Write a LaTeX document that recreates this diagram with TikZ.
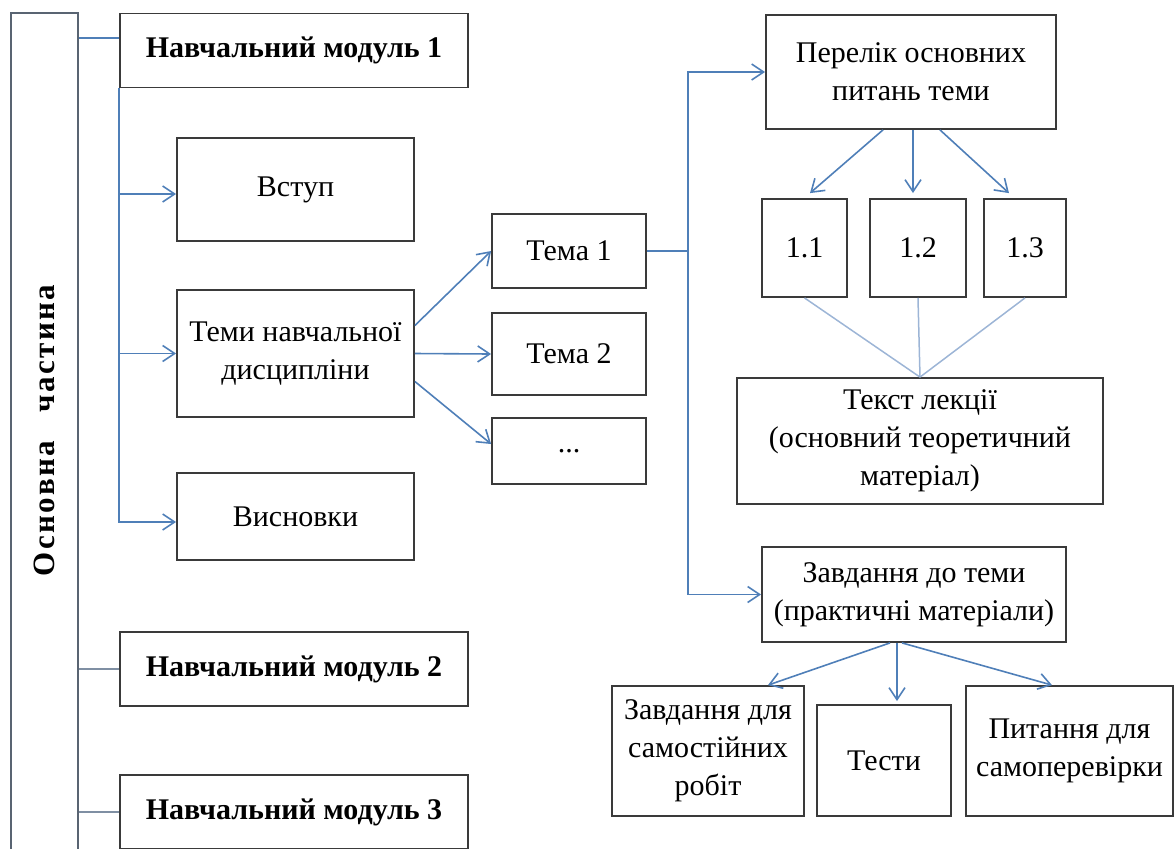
\documentclass[tikz,border=0pt]{standalone}
\usepackage{fontspec}
\setmainfont{Liberation Serif}
\usepackage{tikz}
\usetikzlibrary{arrows.meta}

\definecolor{linkblue}{HTML}{4F7FB8}
\definecolor{paleblue}{HTML}{9DB5D6}
\definecolor{sidegray}{HTML}{7F8FA3}
\definecolor{boxgray}{HTML}{3A3A3A}

\begin{document}
\begin{tikzpicture}[x=0.5pt, y=-0.5pt,
    every node/.style={draw=boxgray, line width=0.9pt, align=center, inner sep=2pt,
      font=\fontsize{15}{19}\selectfont},
    link/.style={draw=linkblue, line width=0.8pt},
    arr/.style={link, -{Straight Barb[length=6pt, width=8pt, line width=0.8pt]}},
    faint/.style={draw=paleblue, line width=0.75pt},
    side/.style={draw=sidegray, line width=0.6pt}]

        \useasboundingbox (0,0) rectangle (1174,848);

        % Side bar
        \node[rotate=90, minimum width=428.5pt, minimum height=33.5pt, draw=sidegray!70!black,
          font=\fontsize{15.5}{19}\selectfont\bfseries\addfontfeature{LetterSpace=8}]
          (main) at (44.5,441.5) {\hspace*{11pt}Основна\hspace{14pt}частина};

        % Modules
        \foreach \i/\y in {1/50.5, 2/669, 3/812} {
          \node[minimum width=174pt, minimum height=37pt, font=\fontsize{15}{19}\selectfont\bfseries]
            (mod\i) at (294,\y) {Навчальний модуль \i};
        }

        % Parts of module 1
        \node[minimum width=118.5pt, minimum height=51.5pt] (intro) at (295.5,189.5) {Вступ};
        \node[minimum width=118.5pt, minimum height=63.5pt] (topics) at (295.5,353.5) {Теми навчальної\\дисципліни};
        \node[minimum width=118.5pt, minimum height=43.5pt] (outro) at (295.5,516.5) {Висновки};

        % Topics
        \node[minimum width=77pt, minimum height=37pt] (tema1) at (569,251) {Тема 1};
        \node[minimum width=77pt, minimum height=41pt] (tema2) at (569,354) {Тема 2};
        \node[minimum width=77pt, minimum height=33pt] (dots) at (569,451) {...};

        % Topic contents
        \node[minimum width=145pt, minimum height=57pt] (perelik) at (911,72) {Перелік основних\\питань теми};
        \foreach \i/\x/\w in {1/804.5/42.5, 2/918/48, 3/1025/41} {
          \node[minimum width=\w pt, minimum height=49pt] (q\i) at (\x,248) {1.\i};
        }
        \node[minimum width=183pt, minimum height=63pt] (lecture) at (920,441) {Текст лекції\\(основний теоретичний\\матеріал)};
        \node[minimum width=152pt, minimum height=47.5pt] (tasks) at (914,594.5) {Завдання до теми\\(практичні матеріали)};

        % Task kinds
        \node[minimum width=96pt, minimum height=65pt] (selfwork) at (708,751) {Завдання для\\самостійних\\робіт};
        \node[minimum width=67pt, minimum height=55.5pt] (tests) at (884,760.5) {Тести};
        \node[minimum width=103.5pt, minimum height=65pt] (selfcheck) at (1069.5,751) {Питання для\\самоперевірки};

        % Side bar to modules
        \coordinate (m1) at ([yshift=6.25pt]mod1.west);
        \draw[link] (m1 -| main.south) -- (m1);
        \foreach \i in {2,3} {
          \draw[side] (mod\i.west -| main.south) -- (mod\i.west);
        }

        % Module 1 trunk
        \draw[arr] (mod1.south west) |- ([yshift=-2.75pt]outro.west);
        \draw[arr] ([yshift=-2.25pt]intro.west -| mod1.west) -- ([yshift=-2.25pt]intro.west);
        \draw[arr] (topics.west -| mod1.west) -- (topics.west);

        % Topics fan
        \draw[arr] ([yshift=14pt]topics.east) -- (tema1.west);
        \draw[arr] (topics.east) -- (tema2.west);
        \draw[arr] ([yshift=-14pt]topics.east) -- ([yshift=3.5pt]dots.west);

        % Fork from topic 1
        \coordinate (fork) at ([xshift=20.5pt]tema1.east);
        \draw[link] (tema1.east) -- (fork);
        \draw[arr] (fork) |- (perelik.west);
        \draw[arr] (fork) |- (tasks.west);

        % Questions and lecture
        \foreach \i/\a/\b in {1/-14/2.75, 2/1/-2.5, 3/14.5/-8} {
          \draw[arr] ([xshift=\a pt]perelik.south) -- ([xshift=\b pt, yshift=2.5pt]q\i.north);
          \draw[faint] (q\i.south) -- (lecture.north);
        }

        % Tasks fan
        \draw[arr] ([xshift=-12pt]tasks.south) -- ([xshift=30pt]selfwork.north);
        \draw[arr] ([xshift=-8.5pt]tasks.south) -- ([xshift=6.5pt, yshift=1.5pt]tests.north);
        \draw[arr] ([xshift=-6pt]tasks.south) -- ([xshift=-8.75pt]selfcheck.north);

      \end{tikzpicture}
\end{document}
